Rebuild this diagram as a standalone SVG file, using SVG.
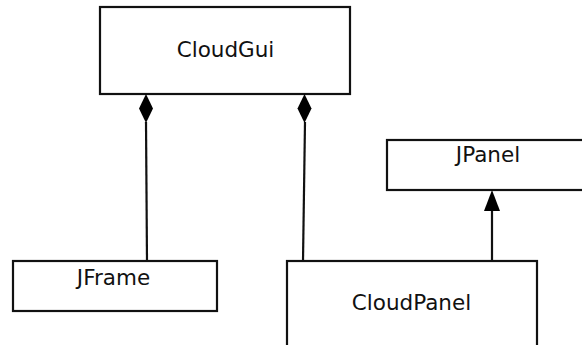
<svg xmlns="http://www.w3.org/2000/svg" width="582" height="345" viewBox="0 0 582 345">
<style>
.box{fill:#fff;stroke:#111;stroke-width:2.2}
.lbl{font-family:"DejaVu Sans",Verdana,sans-serif;font-size:21.5px;fill:#111;text-anchor:middle}
.edge{stroke:#111;stroke-width:2.2;fill:none}
.head{fill:#000;stroke:none}
</style>
<rect width="582" height="345" fill="#fff"/>
<g id="CloudGui">
<rect class="box" x="100" y="7" width="250" height="87"/>
<text class="lbl" x="225.5" y="57">CloudGui</text>
</g>
<g id="JFrame">
<rect class="box" x="13" y="261" width="204" height="50"/>
<text class="lbl" x="113.5" y="285">JFrame</text>
</g>
<g id="JPanel">
<rect class="box" x="387" y="140" width="210" height="50"/>
<text class="lbl" x="488" y="162">JPanel</text>
</g>
<g id="CloudPanel">
<rect class="box" x="287" y="261" width="250" height="100"/>
<text class="lbl" x="411.5" y="310">CloudPanel</text>
</g>
<g id="connectors">
<line class="edge" x1="146" y1="122" x2="147" y2="261"/>
<polygon class="head" points="146,94 153,108.5 146,123 139,108.5"/>
<line class="edge" x1="305" y1="122" x2="303" y2="261"/>
<polygon class="head" points="304.5,94 311.5,108.5 304.5,123 297.5,108.5"/>
<line class="edge" x1="492" y1="261" x2="492" y2="208"/>
<polygon class="head" points="492,190 500,211 484,211"/>
</g>
</svg>
